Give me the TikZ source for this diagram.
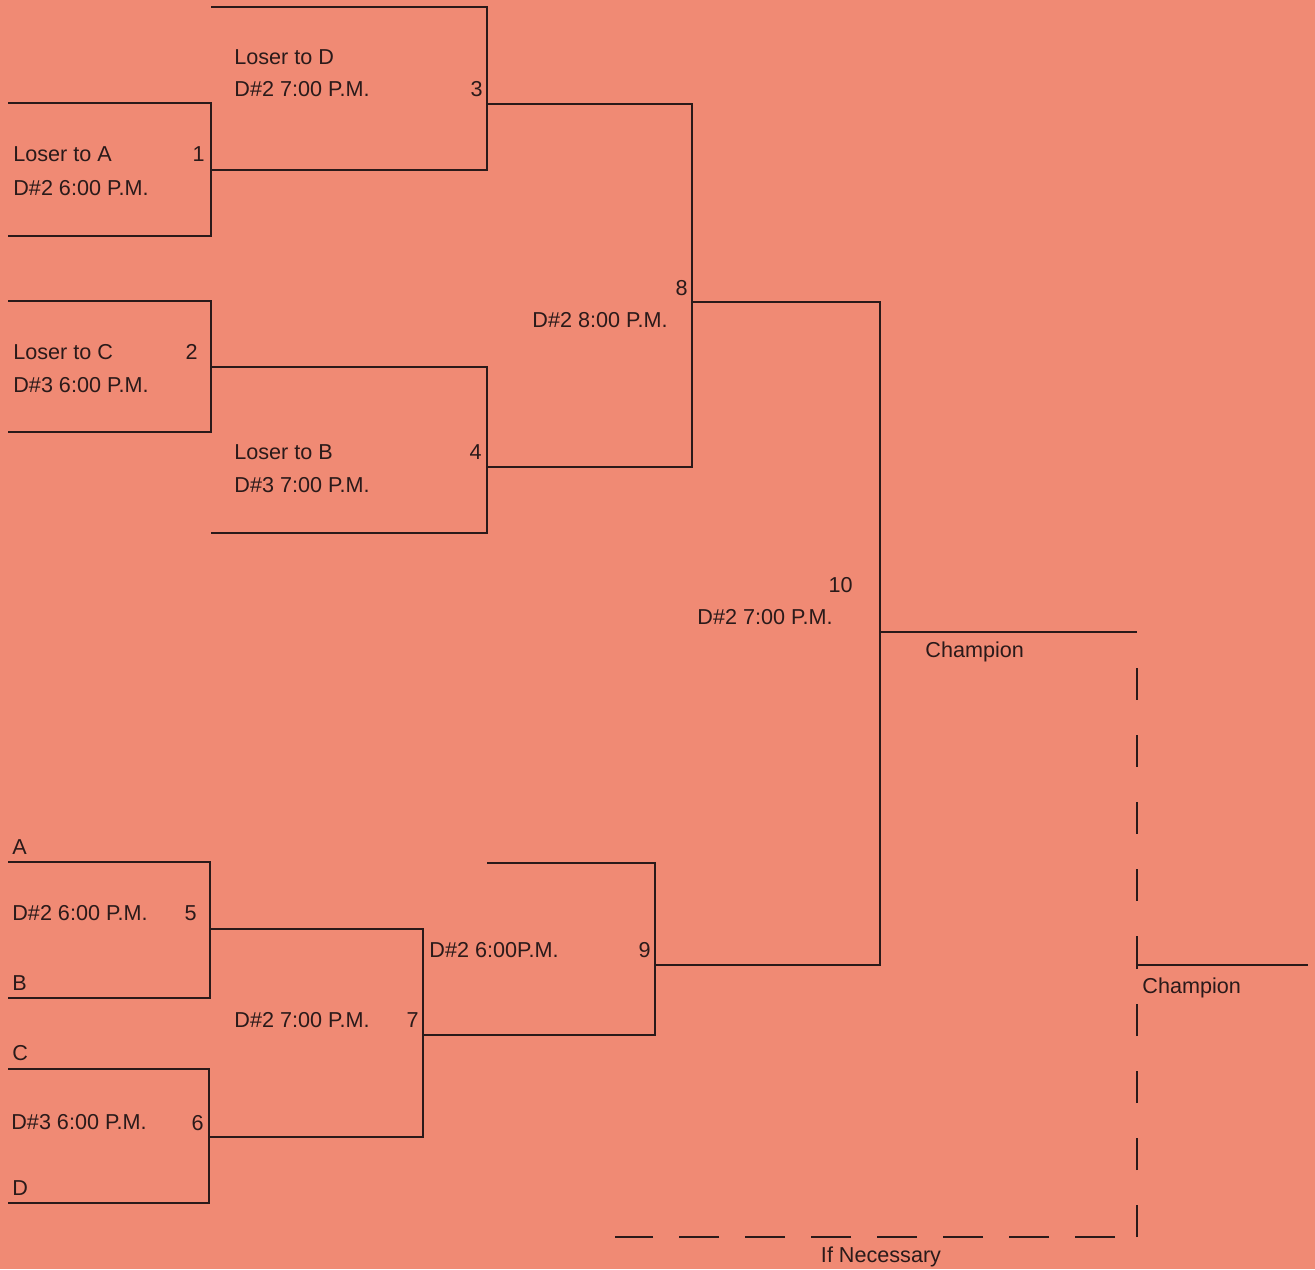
\documentclass[tikz,border=0pt]{standalone}
\usepackage{fontspec}
\setmainfont{Liberation Sans}
\usepackage{tikz}
\usetikzlibrary{positioning}
\definecolor{sheet}{RGB}{240,138,116}
\definecolor{ink}{RGB}{42,26,26}

\begin{document}
\begin{tikzpicture}[
x=0.5pt,y=-0.5pt,
line/.style={draw=ink,line width=1.1pt},
dashline/.style={draw=ink,line width=1.1pt,dash pattern=on 16pt off 17.5pt},
dashrow/.style={draw=ink,line width=1.1pt,dash pattern=on 20pt off 13pt},
lbl/.style={anchor=west,inner sep=0pt,text=ink,font=\fontsize{10.8}{13}\selectfont,text height=7.8pt,text depth=0pt},
num/.style={lbl,anchor=east}
]
\fill[sheet] (0,0) rectangle (1315,1269);
\useasboundingbox (0,0) rectangle (1315,1269);
% entrant lines and game points
\coordinate (g1in1) at (8,103);
\coordinate (g1in2) at (8,236);
\coordinate (g1) at (211,170);
\coordinate (g3in1) at (211,7);
\coordinate (g3) at (487,104);
\coordinate (g2in1) at (8,301);
\coordinate (g2in2) at (8,432);
\coordinate (g2) at (211,367);
\coordinate (g4in2) at (211,533);
\coordinate (g4) at (487,467);
\coordinate (g8) at (692,302);
\coordinate (g5in1) at (8,862);
\coordinate (g5in2) at (8,998);
\coordinate (g5) at (210,929);
\coordinate (g6in1) at (8,1069);
\coordinate (g6in2) at (8,1203);
\coordinate (g6) at (209,1137);
\coordinate (g7) at (423,1035);
\coordinate (g9in1) at (487,863);
\coordinate (g9) at (655,965);
\coordinate (g10) at (880,632);
\coordinate (champ) at (1137,632);
\coordinate (champtwo) at (1137,965);
\coordinate (champend) at (1308,965);
\coordinate (dashtop) at (1137,668);
\coordinate (dashcorner) at (1137,1237);
\coordinate (dashrowend) at (1115,1237);
\coordinate (dashleft) at (615,1237);
% losers side
\draw[line] (g1in1) -| (g1) |- (g1in2);
\draw[line] (g3in1) -| (g3) |- (g1);
\draw[line] (g2in1) -| (g2) |- (g2in2);
\draw[line] (g2) -| (g4) |- (g4in2);
\draw[line] (g3) -| (g8) |- (g4);
% winners side
\draw[line] (g5in1) -| (g5) |- (g5in2);
\draw[line] (g6in1) -| (g6) |- (g6in2);
\draw[line] (g5) -| (g7) |- (g6);
\draw[line] (g9in1) -| (g9) |- (g7);
% final
\draw[line] (g8) -| (g10) |- (g9);
\draw[line] (g10) -- (champ);
\draw[line] (champtwo) -- (champend);
\draw[dashline] (dashtop) -- (champtwo);
\draw[dashline] (dashcorner) -- (champtwo);
\draw[dashrow] (dashrowend) -- (dashleft);
% labels
\node[lbl] (t3a) at (234,57) {Loser to D};
\node[lbl] (t3b) at (234,89) {D\#2 7:00 P.M.};
\node[num] (n3) at (483,89) {3};
\node[lbl] (t1a) at (13,154) {Loser to A};
\node[lbl] (t1b) at (13,188) {D\#2 6:00 P.M.};
\node[num] (n1) at (205,154) {1};
\node[lbl] (t2a) at (13,352) {Loser to C};
\node[lbl] (t2b) at (13,385) {D\#3 6:00 P.M.};
\node[num] (n2) at (198,352) {2};
\node[lbl] (t4a) at (234,452) {Loser to B};
\node[lbl] (t4b) at (234,485) {D\#3 7:00 P.M.};
\node[num] (n4) at (482,452) {4};
\node[lbl] (t8) at (532,320) {D\#2 8:00 P.M.};
\node[num] (n8) at (688,288) {8};
\node[lbl] (t10) at (697,617) {D\#2 7:00 P.M.};
\node[num] (n10) at (853,585) {10};
\node[lbl] (tchamp) at (925,650) {Champion};
\node[lbl] (tchamptwo) at (1142,986) {Champion};
\node[lbl,anchor=center] (tnec) at (881,1255) {If Necessary};
\node[lbl] (ta) at (12,847) {A};
\node[lbl] (t5) at (12,913) {D\#2 6:00 P.M.};
\node[num] (n5) at (197,913) {5};
\node[lbl] (tb) at (12,983) {B};
\node[lbl] (tc) at (12,1053) {C};
\node[lbl] (t6) at (11,1122) {D\#3 6:00 P.M.};
\node[num] (n6) at (204,1123) {6};
\node[lbl] (td) at (12,1188) {D};
\node[lbl] (t7) at (234,1020) {D\#2 7:00 P.M.};
\node[num] (n7) at (419,1020) {7};
\node[lbl] (t9) at (429,950) {D\#2 6:00P.M.};
\node[num] (n9) at (651,950) {9};
\end{tikzpicture}
\end{document}
